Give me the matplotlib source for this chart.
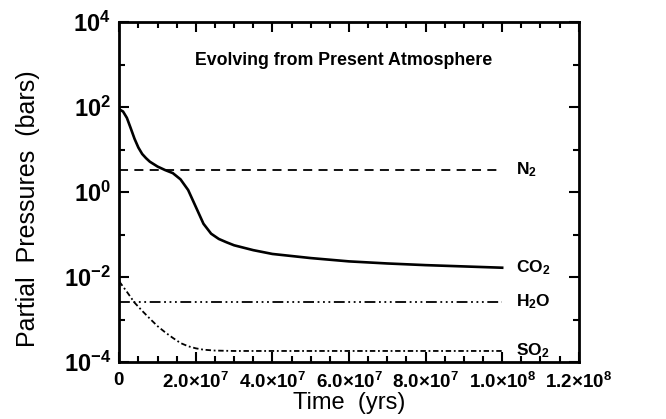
import matplotlib.pyplot as plt
import numpy as np
from matplotlib.ticker import FixedLocator, FuncFormatter

# Time in units of 1e6 yrs
t_co2   = [0, 1, 2, 3, 4, 5, 6, 7, 8, 10, 12, 14, 16, 18, 20, 22, 24, 26, 28, 30,
           35, 40, 50, 60, 70, 80, 90, 100]
co2     = [89, 79, 56, 32, 18, 11.2, 7.9, 6.3, 5.2, 4.0, 3.3, 2.8, 2.0, 1.12,
           0.45, 0.18, 0.105, 0.079, 0.066, 0.056, 0.043, 0.035, 0.028, 0.0234,
           0.0209, 0.0191, 0.0178, 0.0166]

t_so2   = [0, 2, 4, 6, 8, 10, 12, 14, 16, 18, 20, 22, 25, 30, 100]
so2     = [0.0079, 0.0045, 0.0025, 0.0016, 0.00105, 0.0007, 0.0005, 0.00037,
           0.00028, 0.000235, 0.00021, 0.000195, 0.000186, 0.000182, 0.000182]

t_flat  = [0, 100]
n2      = [3.3, 3.3]
h2o     = [0.0026, 0.0026]

species = ["N$_2$", "CO$_2$", "H$_2$O", "SO$_2$"]
label_y = [3.3, 0.0165, 0.0026, 0.00019]

plt.rcParams['font.family'] = ['Liberation Sans', 'DejaVu Sans']
plt.rcParams['mathtext.fontset'] = 'custom'
plt.rcParams['mathtext.rm'] = 'Liberation Sans:bold'
plt.rcParams['mathtext.it'] = 'Liberation Sans:bold'
plt.rcParams['mathtext.bf'] = 'Liberation Sans:bold'

fig = plt.figure(figsize=(6.66, 4.19), dpi=100)
ax = fig.add_axes([0.179, 0.136, 0.69, 0.811])

sc = 1e6
ax.plot(np.array(t_flat)*sc, n2, color='black', lw=1.3, dashes=(5, 3.5))
ax.plot(np.array(t_co2)*sc, co2, color='black', lw=1.9)
ax.plot(np.array(t_flat)*sc, h2o, color='black', lw=1.3,
        dashes=(6, 2, 1, 2, 1, 2, 1, 2))
ax.plot(np.array(t_so2)*sc, so2, color='black', lw=1.3, dashes=(3, 1.5, 1, 1.5))

for name, yy in zip(species, label_y):
    ax.text(1.035e8, yy, name, fontsize=12.5, fontweight='bold', va='center', ha='left')

ax.text(5.85e7, 10**3.1, "Evolving from Present Atmosphere", fontsize=12.8,
        fontweight='bold', ha='center', va='center')

ax.set_yscale('log')
ax.set_xlim(0, 1.2e8)
ax.set_ylim(1e-4, 1e4)

ax.yaxis.set_major_locator(FixedLocator([1e-4, 1e-2, 1e0, 1e2, 1e4]))
ax.yaxis.set_minor_locator(FixedLocator([1e-3, 1e-1, 1e1, 1e3]))
ax.yaxis.set_minor_formatter(FuncFormatter(lambda v, p: ""))
ax.yaxis.set_major_formatter(FuncFormatter(
    lambda v, p: r"$10^{%d}$" % int(round(np.log10(v)))))

ax.xaxis.set_major_locator(FixedLocator(np.arange(0, 1.21e8, 2e7)))
ax.xaxis.set_minor_locator(FixedLocator(np.arange(0, 1.21e8, 5e6)))

def xfmt(v, p):
    if v == 0:
        return r"$0$"
    e = int(np.floor(np.log10(v)))
    return r"$%.1f{\times}10^{%d}$" % (v / 10**e, e)

ax.xaxis.set_major_formatter(FuncFormatter(xfmt))

ax.tick_params(which='both', direction='in', top=True, right=True, width=1.5)
ax.tick_params(which='major', length=7)
ax.tick_params(which='minor', length=4)
ax.tick_params(axis='y', labelsize=17, pad=6)
ax.tick_params(axis='x', labelsize=13.5, pad=7)

for s in ax.spines.values():
    s.set_linewidth(2)

ax.set_xlabel("Time  (yrs)", fontsize=17, labelpad=0)
ax.set_ylabel("Partial  Pressures  (bars)", fontsize=18)
ax.yaxis.set_label_coords(-0.172, 0.45)

fig.savefig("out.png", dpi=100)
